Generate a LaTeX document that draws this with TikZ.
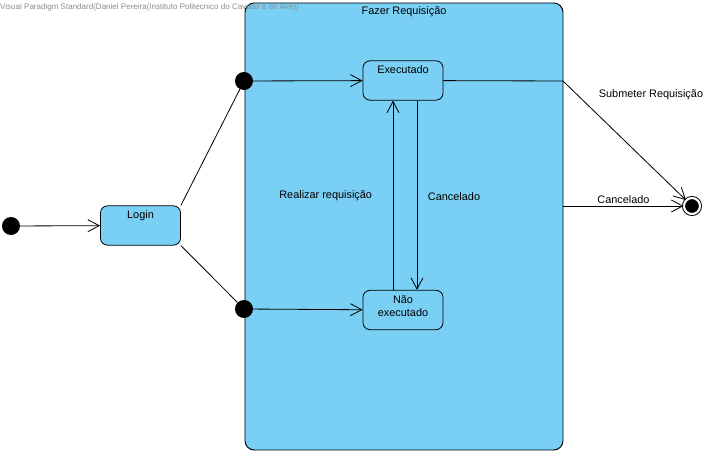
\documentclass[tikz,border=0pt]{standalone}
\usepackage{fontspec}
\setmainfont{Liberation Sans}
\usepackage{tikz}
\usetikzlibrary{arrows.meta, positioning, calc}
\definecolor{vpblue}{HTML}{7ACFF5}
\definecolor{vpgray}{HTML}{8C8C8C}

\begin{document}
\begin{tikzpicture}[
    x=0.03cm, y=-0.03cm,
    every node/.style={font=\fontsize{9.3}{11}\selectfont},
    composite/.style={rectangle, rounded corners=8pt, draw, line width=0.8pt, fill=vpblue, minimum width=9.54cm, minimum height=13.41cm, inner sep=0pt},
    state/.style={rectangle, rounded corners=6pt, draw, line width=0.7pt, fill=vpblue, minimum width=2.4cm, minimum height=1.18cm, inner sep=0pt},
    dot/.style={circle, fill=black, minimum size=0.54cm, inner sep=0pt},
    final/.style={circle, draw=black, line width=0.8pt, double=white, double distance=0.064cm, fill=black, minimum size=0.48cm, inner sep=0pt},
    trans/.style={-{Straight Barb[length=3.4mm, width=3.6mm]}, line width=0.7pt},
    link/.style={line width=0.7pt}
]
\useasboundingbox (0,0) rectangle (720,455);

% Composite state
\node[composite, label={[anchor=north, inner sep=2pt, yshift=-1pt]north:Fazer Requisição}] (fazer) at (404,226.5) {};

% Watermark
\node[font=\fontsize{6.85}{8}\selectfont, color=vpgray, anchor=west, inner sep=0pt] (mark) at (0,7) {Visual Paradigm Standard(Daniel Pereira(Instituto Politecnico do Cavado e do Ave))};

% States
\node[dot] (init) at (11,226) {};
\node[state, label={[anchor=north, inner sep=2pt, yshift=-2pt]north:Login}] (login) at (140.5,225.5) {};
\node[dot] (entryA) at (244,81) {};
\node[dot] (entryB) at (244,309) {};
\node[state, label={[anchor=north, inner sep=2pt, yshift=-2pt]north:Executado}] (exec) at (403,80.5) {};
\node[state, label={[anchor=north, align=center, inner sep=2pt, yshift=-3pt]north:Não\\executado}] (nexec) at (403,310) {};
\node[final] (end) at (692,206) {};
\coordinate (bend) at (563,81);

% Transitions
\draw[trans] (init) -- (login);
\draw[link] (login.north east) -- (entryA);
\draw[link] (login.south east) -- (entryB);
\draw[trans] (entryA) -- (exec);
\draw[trans] (entryB) -- (nexec);
\draw[trans] ([xshift=-0.3cm]nexec.north) -- ([xshift=-0.3cm]exec.south)
    node[midway, left=0.5cm] {Realizar requisição};
\draw[trans] ([xshift=0.42cm]exec.south) -- ([xshift=0.42cm]nexec.north)
    node[midway, right=0.2cm, yshift=-1pt] {Cancelado};
\draw[trans] (exec) -- (bend) -- (end);
\node (submeter) at (651,95) {Submeter Requisição};
\draw[trans] (fazer.east |- end) -- (end) node[midway, above, inner sep=2pt] {Cancelado};

\end{tikzpicture}
\end{document}
